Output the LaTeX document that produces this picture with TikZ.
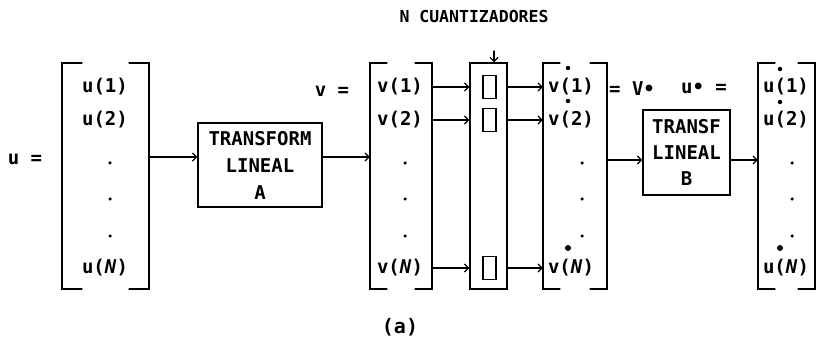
\documentclass[tikz,border=0pt]{standalone}
\usepackage{fontspec}
\setmonofont{DejaVu Sans Mono}
\usepackage{tikz}
\usetikzlibrary{arrows.meta}

\begin{document}
\begin{tikzpicture}[x=1pt,y=-1pt,>={Straight Barb[length=4pt,width=8pt]},line cap=round,
  font=\ttfamily\bfseries\fontsize{19}{26}\selectfont,
  vecnode/.style={minimum width=#1,minimum height=226pt,inner sep=0pt},
  bracket/.style={line width=1.8pt},
  trbox/.style={draw,line width=1.4pt,align=center,inner sep=0pt},
  qcell/.style={draw,line width=1.2pt,minimum width=13pt,minimum height=23.5pt,inner sep=0pt},
  conn/.style={->,line width=1.2pt},
  dotnode/.style={circle,fill,inner sep=0pt,minimum size=3.5pt},
  bul/.style={circle,fill,inner sep=0pt,minimum size=#1},
  bul/.default=4.5pt]
\useasboundingbox (0,0) rectangle (819,347);
% columns
\node[vecnode=87pt] (u) at (105.5,176) {};
\node[vecnode=62pt] (v) at (401,176) {};
\node[draw,line width=1.5pt,vecnode=37pt] (q) at (488.5,176) {};
\node[vecnode=64pt] (vs) at (575,176) {};
\node[vecnode=57pt] (us) at (786.5,176) {};
\foreach \n/\w in {u/20pt,v/17pt,vs/17pt,us/17pt}
  \draw[bracket] ([xshift=\w]\n.north west) -- (\n.north west) -- (\n.south west) -- ([xshift=\w]\n.south west)
    ([xshift=-\w]\n.north east) -- (\n.north east) -- (\n.south east) -- ([xshift=-\w]\n.south east);
% entries
\foreach \i/\y/\t in {1/87/1,2/120/2,N/268/\textit{N}} {
  \node (u\i) at (105,\y) {u(\t)};
  \node (v\i) at (400,\y) {v(\t)};
  \node[qcell] (q\i) at (489.5,\y) {};
  \node (vs\i) at (571,\y) {v(\t)};
  \node (us\i) at (786,\y) {u(\t)};
}
\foreach \j/\y in {1/163,2/199,3/236} {
  \node[dotnode] (ud\j) at (110,\y) {};
  \node[dotnode] (vd\j) at (405,\y) {};
  \node[dotnode] (vsd\j) at (582,\y) {};
  \node[dotnode] (usd\j) at (792,\y) {};
}
\foreach \i in {1,2} {
  \node[bul] (vsb\i) at ([xshift=-3pt,yshift=19pt]vs\i.center) {};
  \node[bul] (usb\i) at ([xshift=-6pt,yshift=18pt]us\i.center) {};
}
\node[bul=6pt] (vsbN) at ([xshift=-3pt,yshift=20pt]vsN.center) {};
\node[bul=6pt] (usbN) at ([xshift=-6pt,yshift=20pt]usN.center) {};
% transforms
\node[trbox,minimum width=124pt,minimum height=84pt] (ta) at (260,165) {TRANSFORM\\[1pt]LINEAL\\[1pt]A};
\node[trbox,minimum width=87pt,minimum height=85pt] (tb) at (686.5,152.5) {TRANSF\\LINEAL\\B};
% labels
\node (ulab) at (25,159) {u =};
\node (vlab) at (332,91) {v =};
\node (vslab) at (632,89) {= V•};
\node (uslab) at (704,88) {u• =};
\node[font=\ttfamily\bfseries\fontsize{16.5}{20}\selectfont] (title) at (474,16) {N CUANTIZADORES};
\node[font=\ttfamily\bfseries\fontsize{20}{24}\selectfont] (cap) at (400,327) {(a)};
% connectors
\coordinate (ya) at (0,157);
\coordinate (yb) at (0,160);
\coordinate (qin) at (494,51);
\draw[conn] (u.east |- ya) -- (ta.west |- ya);
\draw[conn] (ta.east |- ya) -- (v.west |- ya);
\foreach \i in {1,2,N} {
  \draw[conn] (v.east |- v\i) -- (q.west |- v\i);
  \draw[conn] (q.east |- v\i) -- (vs.west |- v\i);
}
\draw[conn] (vs.east |- yb) -- (tb.west |- yb);
\draw[conn] (tb.east |- yb) -- (us.west |- yb);
\draw[conn] (qin) -- (qin |- q.north);
\end{tikzpicture}
\end{document}
